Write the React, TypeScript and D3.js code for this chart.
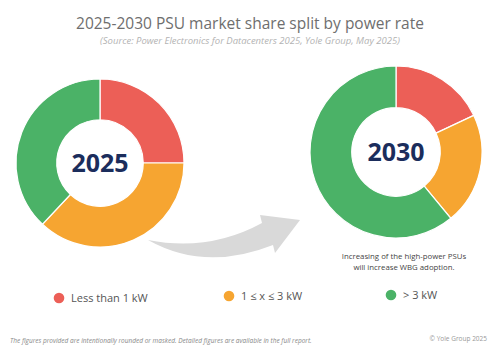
import { useRef, useLayoutEffect } from "react";
import * as d3 from "d3";

const categories = ["Less than 1 kW", "1 ≤ x ≤ 3 kW", "> 3 kW"];
const share2025 = [25, 37, 38];
const share2030 = [18, 21, 61];
const colors = ["#ec5f57", "#f6a531", "#4bb267"];

const W = 500;
const H = 350;
const FONT = "'Open Sans', sans-serif";

export default function App() {
  const svgRef = useRef<SVGSVGElement | null>(null);

  useLayoutEffect(() => {
    if (!svgRef.current) return;
    const svg = d3.select(svgRef.current);
    svg.selectAll("*").remove();

    svg.append("rect").attr("width", W).attr("height", H).attr("fill", "#fff");

    // title + source
    svg
      .append("text")
      .attr("x", 250)
      .attr("y", 29)
      .attr("text-anchor", "middle")
      .attr("font-family", FONT)
      .attr("font-size", 15.5)
      .attr("fill", "#6e6e6e")
      .text("2025-2030 PSU market share split by power rate");
    svg
      .append("text")
      .attr("x", 250)
      .attr("y", 44)
      .attr("text-anchor", "middle")
      .attr("font-family", FONT)
      .attr("font-style", "italic")
      .attr("font-size", 9.5)
      .attr("fill", "#b3b3b3")
      .text("(Source: Power Electronics for Datacenters 2025, Yole Group, May 2025)");

    // curved arrow between the donuts
    svg
      .append("path")
      .attr("d", "M148,240 Q205,272 273,245 L275,253 L300,220 L260,215 L262,223 Q209,252 148,240 Z")
      .attr("fill", "#d9d9d9");

    const pie = d3.pie<number>().sort(null).value((d) => d);

    const donut = (values: number[], cx: number, cy: number, r: number, label: string) => {
      const arc = d3.arc<d3.PieArcDatum<number>>().innerRadius(r * 0.515).outerRadius(r);
      const g = svg.append("g").attr("transform", `translate(${cx},${cy})`);
      g.selectAll("path")
        .data(pie(values))
        .enter()
        .append("path")
        .attr("d", arc as any)
        .attr("fill", (_, i) => colors[i])
        .attr("stroke", "#fff")
        .attr("stroke-width", 1.2);
      g.append("text")
        .attr("y", 9)
        .attr("text-anchor", "middle")
        .attr("font-family", FONT)
        .attr("font-weight", 700)
        .attr("font-size", 25)
        .attr("fill", "#1b2d5c")
        .text(label);
    };

    donut(share2025, 100, 163, 84, "2025");
    donut(share2030, 396, 152, 86, "2030");

    // annotation
    const note = ["Increasing of the high-power PSUs", "will increase WBG adoption."];
    note.forEach((t, i) =>
      svg
        .append("text")
        .attr("x", 404)
        .attr("y", 259 + i * 10.5)
        .attr("text-anchor", "middle")
        .attr("font-family", FONT)
        .attr("font-size", 7.8)
        .attr("fill", "#444")
        .text(t)
    );

    // legend
    const legendX = [59, 229, 391];
    const legendY = [298, 296, 295];
    categories.forEach((c, i) => {
      svg
        .append("circle")
        .attr("cx", legendX[i])
        .attr("cy", legendY[i])
        .attr("r", 5.3)
        .attr("fill", colors[i]);
      svg
        .append("text")
        .attr("x", legendX[i] + 12)
        .attr("y", legendY[i] + 4)
        .attr("font-family", FONT)
        .attr("font-size", 11)
        .attr("fill", "#555")
        .text(c);
    });

    // footer
    svg
      .append("text")
      .attr("x", 10)
      .attr("y", 343)
      .attr("font-family", FONT)
      .attr("font-style", "italic")
      .attr("font-size", 6.5)
      .attr("fill", "#888")
      .text("The figures provided are intentionally rounded or masked. Detailed figures are available in the full report.");
    svg
      .append("text")
      .attr("x", 487)
      .attr("y", 341)
      .attr("text-anchor", "end")
      .attr("font-family", FONT)
      .attr("font-size", 6.5)
      .attr("fill", "#999")
      .text("© Yole Group 2025");
  }, []);

  return (
    <svg
      ref={svgRef}
      width={W}
      height={H}
      style={{ position: "absolute", left: 0, top: 0 }}
    />
  );
}
